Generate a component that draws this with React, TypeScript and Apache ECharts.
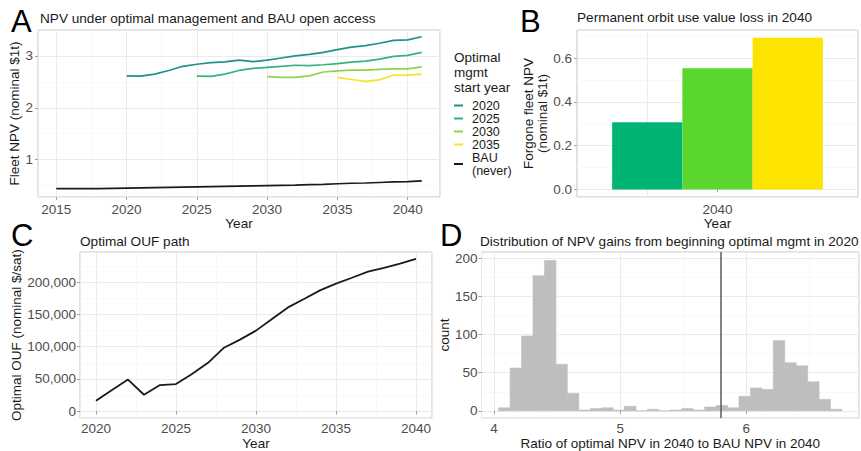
import React, { useEffect, useRef } from "react";
import * as echarts from "echarts";

// ---------- Panel A data ----------
const yearsA = [2015, 2016, 2017, 2018, 2019, 2020, 2021, 2022, 2023, 2024, 2025, 2026, 2027, 2028, 2029, 2030, 2031, 2032, 2033, 2034, 2035, 2036, 2037, 2038, 2039, 2040, 2041];
const npv2020 = [null, null, null, null, null, 2.615, 2.61, 2.65, 2.72, 2.8, 2.84, 2.87, 2.885, 2.92, 2.89, 2.92, 2.96, 3.0, 3.03, 3.07, 3.12, 3.17, 3.2, 3.245, 3.3, 3.31, 3.37];
const npv2025 = [null, null, null, null, null, null, null, null, null, null, 2.61, 2.605, 2.65, 2.72, 2.76, 2.78, 2.8, 2.82, 2.815, 2.83, 2.85, 2.88, 2.9, 2.94, 2.99, 3.01, 3.07];
const npv2030 = [null, null, null, null, null, null, null, null, null, null, null, null, null, null, null, 2.6, 2.585, 2.585, 2.615, 2.69, 2.71, 2.725, 2.725, 2.74, 2.75, 2.75, 2.79];
const npv2035 = [null, null, null, null, null, null, null, null, null, null, null, null, null, null, null, null, null, null, null, null, 2.585, 2.545, 2.51, 2.54, 2.63, 2.63, 2.65];
const npvBAU = [0.44, 0.44, 0.44, 0.44, 0.445, 0.45, 0.455, 0.46, 0.465, 0.47, 0.475, 0.48, 0.485, 0.49, 0.495, 0.5, 0.505, 0.51, 0.52, 0.525, 0.535, 0.545, 0.55, 0.56, 0.57, 0.575, 0.59];
const seriesNamesA = ["2020", "2025", "2030", "2035", "BAU (never)"];

// ---------- Panel B data ----------
const categoriesB = ["2040"];
const startYearsB = ["2025", "2030", "2035"];
const lossB = [0.307, 0.554, 0.694];

// ---------- Panel C data ----------
const yearsC = [2020, 2021, 2022, 2023, 2024, 2025, 2026, 2027, 2028, 2029, 2030, 2031, 2032, 2033, 2034, 2035, 2036, 2037, 2038, 2039, 2040];
const oufC = [16000, 33000, 49000, 25500, 40500, 42000, 57500, 75000, 98500, 111000, 125000, 143000, 161000, 174000, 187500, 198000, 207000, 216500, 222500, 229000, 236500];

// ---------- Panel D data ----------
const histStart = 4.037;
const histBinWidth = 0.0907;
const histCounts = [4, 56, 98, 177, 197, 61, 23, 1, 3, 4, 1, 6, 0, 2, 0, 1, 3, 1, 5, 7, 4, 19, 30, 28, 92, 63, 59, 38, 15, 2];
const ratioLine = 5.797;

const FONT = "Liberation Sans, Arial, Helvetica, sans-serif";
const colorsA = ["#21918c", "#33b57c", "#8fd449", "#f6e32e"];
const colorsB = ["#00b474", "#5ad62c", "#fde400"];

function valueAxis(gridIndex: number, min: number, max: number, splitNumber: number, extra: any = {}) {
  const { axisLabel, ...rest } = extra;
  return {
    type: "value",
    gridIndex,
    min,
    max,
    splitNumber,
    axisLine: { show: false },
    axisTick: { show: true, length: 3, lineStyle: { color: "#a0a0a0" } },
    axisLabel: {
      color: "#4d4d4d",
      fontSize: 13.5,
      fontFamily: FONT,
      margin: 5,
      showMinLabel: false,
      showMaxLabel: false,
      ...(axisLabel || {}),
    },
    splitLine: { show: true, lineStyle: { color: "#ebebeb", width: 1 } },
    minorTick: { show: false, splitNumber: 2 },
    minorSplitLine: { show: true, lineStyle: { color: "#f5f5f5", width: 0.7 } },
    nameLocation: "middle",
    nameTextStyle: { color: "#1a1a1a", fontSize: 13.5, fontFamily: FONT },
    ...rest,
  };
}

const gridBase = { show: true, borderColor: "#c4c4c4", borderWidth: 1, backgroundColor: "#ffffff" };

export default function App() {
  const ref = useRef<HTMLDivElement>(null);
  useEffect(() => {
    if (!ref.current) return;
    const chart = echarts.init(ref.current, undefined, { renderer: "svg" });
    const titleStyle = { fontSize: 13.6, fontWeight: "normal", color: "#1a1a1a", fontFamily: FONT };
    const letterStyle = { fontSize: 31, fontWeight: "normal", color: "#000000", fontFamily: FONT };
    const lineA = [npv2020, npv2025, npv2030, npv2035];

    const option: any = {
      animation: false,
      backgroundColor: "#ffffff",
      textStyle: { fontFamily: FONT },
      title: [
        { text: "NPV under optimal management and BAU open access", left: 40, top: 11, padding: 0, textStyle: titleStyle },
        { text: "Permanent orbit use value loss in 2040", left: 577, top: 10, padding: 0, textStyle: titleStyle },
        { text: "Optimal OUF path", left: 80, top: 234, padding: 0, textStyle: titleStyle },
        { text: "Distribution of NPV gains from beginning optimal mgmt in 2020", left: 480, top: 234, padding: 0, textStyle: titleStyle },
        { text: "A", left: 11, top: 6, padding: 0, textStyle: letterStyle },
        { text: "B", left: 520, top: 6, padding: 0, textStyle: letterStyle },
        { text: "C", left: 11, top: 220, padding: 0, textStyle: letterStyle },
        { text: "D", left: 440, top: 220, padding: 0, textStyle: letterStyle },
        {
          text: "Optimal\nmgmt\nstart year",
          left: 454,
          top: 50,
          padding: 0,
          textStyle: { fontSize: 13.5, fontWeight: "normal", color: "#1a1a1a", fontFamily: FONT, lineHeight: 15 },
        },
      ],
      legend: {
        orient: "vertical",
        left: 454,
        top: 99,
        padding: 0,
        itemGap: 0,
        itemWidth: 9,
        itemHeight: 2,
        icon: "rect",
        selectedMode: false,
        data: seriesNamesA,
        formatter: (n: string) => (n === "BAU (never)" ? "BAU\n(never)" : n),
        textStyle: { fontSize: 12.5, lineHeight: 13, color: "#1a1a1a", fontFamily: FONT, padding: [0, 0, 0, 4] },
      },
      grid: [
        { ...gridBase, left: 38, top: 30, width: 402, height: 167 },
        { ...gridBase, left: 577, top: 30, width: 281, height: 167 },
        { ...gridBase, left: 80, top: 252, width: 352, height: 167 },
        { ...gridBase, left: 481.5, top: 252, width: 377.5, height: 167 },
      ],
      xAxis: [
        valueAxis(0, 2013.7, 2042.3, 5, {
          name: "Year",
          nameGap: 14,
          axisLabel: { formatter: (v: number) => String(v), margin: 5 },
        }),
        {
          type: "category",
          gridIndex: 1,
          data: categoriesB,
          axisLine: { show: false },
          axisTick: { show: true, length: 3, alignWithLabel: true, lineStyle: { color: "#a0a0a0" } },
          axisLabel: { color: "#4d4d4d", fontSize: 13.5, fontFamily: FONT, margin: 5 },
          splitLine: { show: false },
          name: "Year",
          nameLocation: "middle",
          nameGap: 14,
          nameTextStyle: { color: "#1a1a1a", fontSize: 13.5, fontFamily: FONT },
        },
        valueAxis(2, 2019, 2041, 5, {
          name: "Year",
          nameGap: 11,
          axisLabel: { formatter: (v: number) => String(v), margin: 3 },
        }),
        valueAxis(3, 3.901, 6.893, 3, {
          name: "Ratio of optimal NPV in 2040 to BAU NPV in 2040",
          nameGap: 11,
          axisLabel: { formatter: (v: number) => String(v), margin: 3 },
        }),
      ],
      yAxis: [
        valueAxis(0, 0.28, 3.5, 3, { name: "Fleet NPV (nominal $1t)", nameGap: 13 }),
        valueAxis(1, -0.0347, 0.729, 4, {
          name: "Forgone fleet NPV\n(nominal $1t)",
          nameGap: 17,
          nameTextStyle: { color: "#1a1a1a", fontSize: 13.5, fontFamily: FONT, lineHeight: 14 },
          axisLabel: { formatter: (v: number) => v.toFixed(1) },
        }),
        valueAxis(2, -10770, 247000, 5, {
          name: "Optimal OUF (nominal $/sat)",
          nameGap: 56,
          axisLabel: { formatter: (v: number) => v.toLocaleString("en-US"), margin: 4 },
        }),
        valueAxis(3, -9.5, 208, 4, { name: "count", nameGap: 29, axisLabel: { margin: 4 } }),
      ],
      series: [
        ...lineA.map((arr, i) => ({
          name: seriesNamesA[i],
          type: "line",
          xAxisIndex: 0,
          yAxisIndex: 0,
          showSymbol: false,
          connectNulls: false,
          color: colorsA[i],
          lineStyle: { width: 1.7, color: colorsA[i] },
          data: yearsA.map((y, j) => [y, arr[j]]),
        })),
        {
          name: seriesNamesA[4],
          type: "line",
          xAxisIndex: 0,
          yAxisIndex: 0,
          showSymbol: false,
          color: "#1a1a1a",
          lineStyle: { width: 1.7, color: "#1a1a1a" },
          data: yearsA.map((y, j) => [y, npvBAU[j]]),
        },
        ...startYearsB.map((s, i) => ({
          name: "B " + s,
          type: "bar",
          xAxisIndex: 1,
          yAxisIndex: 1,
          barWidth: "25%",
          barGap: "0%",
          itemStyle: { color: colorsB[i] },
          data: [lossB[i]],
          markLine:
            i === 0
              ? {
                  silent: true,
                  z: 1,
                  symbol: ["none", "none"],
                  label: { show: false },
                  lineStyle: { color: "#ebebeb", type: "solid", width: 1 },
                  data: [{ xAxis: categoriesB[0] }],
                }
              : undefined,
        })),
        {
          name: "OUF",
          type: "line",
          xAxisIndex: 2,
          yAxisIndex: 2,
          showSymbol: false,
          lineStyle: { width: 1.8, color: "#1a1a1a" },
          data: yearsC.map((y, j) => [y, oufC[j]]),
        },
        {
          name: "hist",
          type: "custom",
          xAxisIndex: 3,
          yAxisIndex: 3,
          encode: { x: [0, 1], y: 2 },
          data: histCounts.map((c, i) => [histStart + i * histBinWidth, histStart + (i + 1) * histBinWidth, c]),
          renderItem: (params: any, api: any) => {
            const p0 = api.coord([api.value(0), 0]);
            const p1 = api.coord([api.value(1), api.value(2)]);
            return {
              type: "rect",
              shape: { x: p0[0], y: p1[1], width: p1[0] - p0[0], height: p0[1] - p1[1] },
              style: { fill: "#bebebe", stroke: "#bebebe", lineWidth: 0.6 },
            };
          },
          markLine: {
            silent: true,
            symbol: ["none", "none"],
            label: { show: false },
            lineStyle: { color: "#5a5a5a", type: "solid", width: 1.5 },
            data: [{ xAxis: ratioLine }],
          },
        },
      ],
    };
    chart.setOption(option);
    return () => chart.dispose();
  }, []);
  return <div ref={ref} style={{ position: "fixed", left: 0, top: 0, width: 861, height: 451, background: "#fff" }} />;
}
